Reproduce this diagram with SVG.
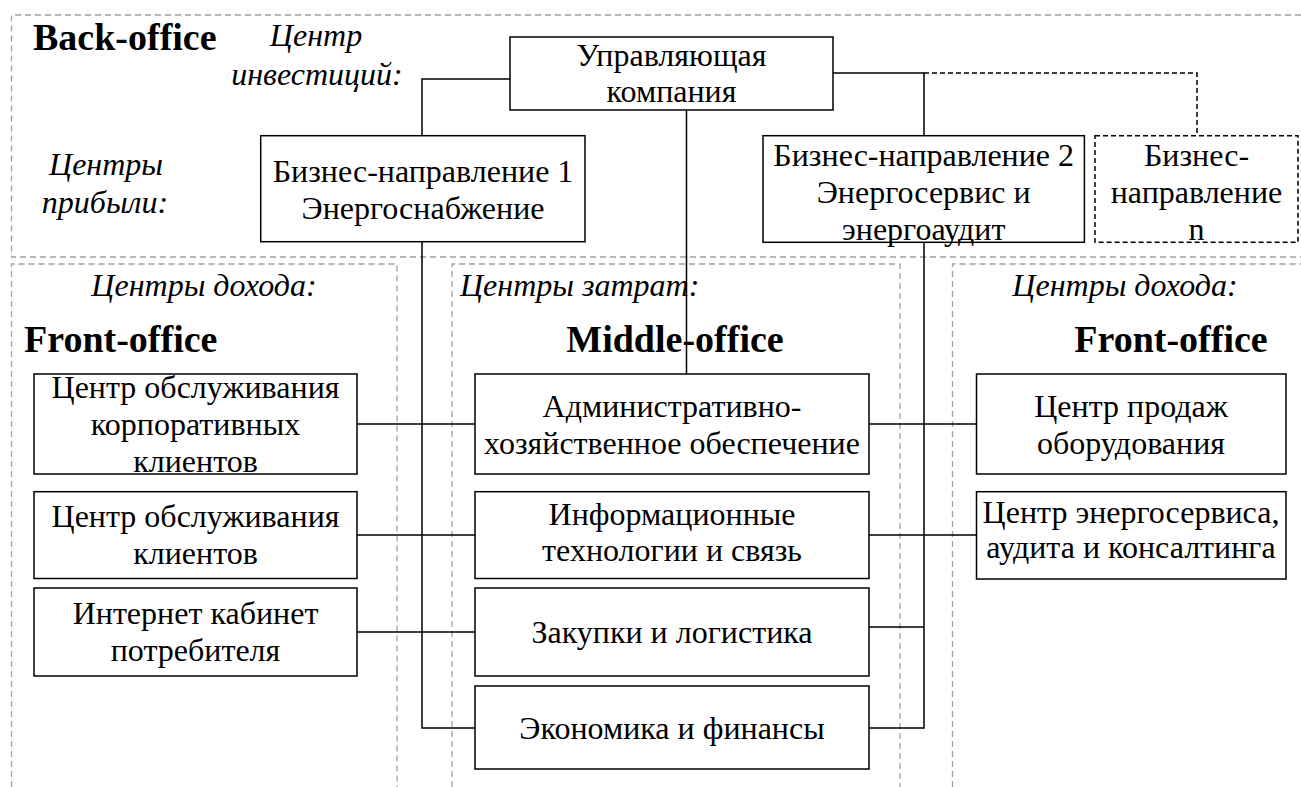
<svg xmlns="http://www.w3.org/2000/svg" width="1301" height="787" viewBox="0 0 1301 787" font-family="'Liberation Serif', 'Times New Roman', serif">
<style>
.bg{fill:#fff}
.region{fill:none;stroke:#a0a0a0;stroke-width:1.3;stroke-dasharray:6 4}
.box{fill:#fff;stroke:#000;stroke-width:1.5}
.dbox{fill:#fff;stroke:#000;stroke-width:1.5;stroke-dasharray:5 3}
.conn{fill:none;stroke:#000;stroke-width:1.5}
.dconn{fill:none;stroke:#000;stroke-width:1.5;stroke-dasharray:5 3}
text{font-family:'Liberation Serif','Times New Roman',serif;fill:#000}
.t{font-size:32px;text-anchor:middle}
.ti{font-size:32px;font-style:italic}
.tb{font-size:38px;font-weight:bold}
</style>
<rect class="bg" x="0" y="0" width="1301" height="787"/>
<g id="regions">
<path class="region" d="M1301,15 H11.5 V257 H1301"/>
<path class="region" d="M11.5,787 V264 H397 V787"/>
<path class="region" d="M452,787 V264 H900 V787"/>
<path class="region" d="M952.5,787 V264 H1301"/>
</g>
<g id="labels">
<text class="tb" x="33" y="50">Back-office</text>
<text class="ti" x="316" y="46" text-anchor="middle">Центр</text>
<text class="ti" x="317" y="85" text-anchor="middle">инвестиций:</text>
<text class="ti" x="106" y="175" text-anchor="middle">Центры</text>
<text class="ti" x="105" y="213" text-anchor="middle">прибыли:</text>
<text class="ti" x="204" y="296" text-anchor="middle">Центры дохода:</text>
<text class="tb" x="24" y="352">Front-office</text>
<text class="ti" x="460" y="296">Центры затрат:</text>
<text class="tb" x="675" y="352" text-anchor="middle">Middle-office</text>
<text class="ti" x="1125" y="296" text-anchor="middle">Центры дохода:</text>
<text class="tb" x="1171" y="352" text-anchor="middle">Front-office</text>
</g>
<g id="connectors">
<path class="conn" d="M510,79 H422 V136"/>
<path class="conn" d="M833,73 H924 V136"/>
<path class="dconn" d="M924,73 H1197 V135"/>
<path class="conn" d="M686.5,110 V374"/>
<path class="conn" d="M422,242 V728 H475"/>
<path class="conn" d="M924,242 V728 H869"/>
<path class="conn" d="M357,424 H475"/>
<path class="conn" d="M869,424 H976.5"/>
<path class="conn" d="M357,535 H475"/>
<path class="conn" d="M869,535 H976.5"/>
<path class="conn" d="M357,632 H475"/>
<path class="conn" d="M869,627 H924"/>
</g>
<g id="n-uk">
<rect class="box" x="510" y="37" width="323" height="73"/>
<text class="t" x="671.5" y="66">Управляющая</text>
<text class="t" x="671.5" y="102">компания</text>
</g>
<g id="n-bn1">
<rect class="box" x="260.7" y="135.7" width="324.3" height="106"/>
<text class="t" x="423" y="182">Бизнес-направление 1</text>
<text class="t" x="423" y="219">Энергоснабжение</text>
</g>
<g id="n-bn2">
<rect class="box" x="763" y="135.7" width="321.4" height="106.6"/>
<text class="t" x="923.7" y="166">Бизнес-направление 2</text>
<text class="t" x="923.7" y="203">Энергосервис и</text>
<text class="t" x="923.7" y="240">энергоаудит</text>
</g>
<g id="n-bnn">
<rect class="dbox" x="1095" y="135.7" width="203" height="106.6"/>
<text class="t" x="1196.5" y="166">Бизнес-</text>
<text class="t" x="1196.5" y="203">направление</text>
<text class="t" x="1196.5" y="240">n</text>
</g>
<g id="n-corp">
<rect class="box" x="34" y="374" width="323" height="100"/>
<text class="t" x="195.5" y="398">Центр обслуживания</text>
<text class="t" x="195.5" y="435">корпоративных</text>
<text class="t" x="195.5" y="472">клиентов</text>
</g>
<g id="n-cli">
<rect class="box" x="34" y="491.7" width="323" height="86.8"/>
<text class="t" x="195.5" y="527">Центр обслуживания</text>
<text class="t" x="195.5" y="564">клиентов</text>
</g>
<g id="n-inet">
<rect class="box" x="34" y="588" width="323" height="88"/>
<text class="t" x="195.5" y="624">Интернет кабинет</text>
<text class="t" x="195.5" y="661">потребителя</text>
</g>
<g id="n-adm">
<rect class="box" x="475" y="374" width="394" height="100"/>
<text class="t" x="672" y="417">Административно-</text>
<text class="t" x="672" y="454">хозяйственное обеспечение</text>
</g>
<g id="n-it">
<rect class="box" x="475" y="491.7" width="394" height="86.8"/>
<text class="t" x="672" y="525">Информационные</text>
<text class="t" x="672" y="561">технологии и связь</text>
</g>
<g id="n-zak">
<rect class="box" x="475" y="588" width="394" height="88"/>
<text class="t" x="672" y="643">Закупки и логистика</text>
</g>
<g id="n-eco">
<rect class="box" x="475" y="686" width="394" height="83"/>
<text class="t" x="672" y="739">Экономика и финансы</text>
</g>
<g id="n-sales">
<rect class="box" x="976.5" y="374" width="309.5" height="100"/>
<text class="t" x="1131" y="417">Центр продаж</text>
<text class="t" x="1131" y="454">оборудования</text>
</g>
<g id="n-esco">
<rect class="box" x="976.5" y="491.7" width="309.5" height="87.3"/>
<text class="t" x="1131" y="523">Центр энергосервиса,</text>
<text class="t" x="1131" y="558">аудита и консалтинга</text>
</g>
</svg>
